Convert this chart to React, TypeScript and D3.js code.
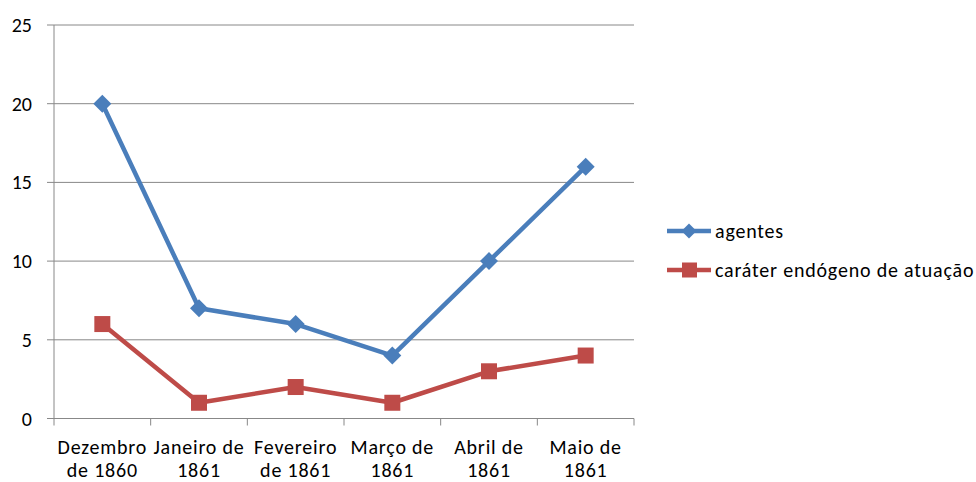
import React from "react";
import * as d3 from "d3";

const categories = [
  ["Dezembro", "de 1860"],
  ["Janeiro de", "1861"],
  ["Fevereiro", "de 1861"],
  ["Março de", "1861"],
  ["Abril de", "1861"],
  ["Maio de", "1861"],
];
const agentes = [20, 7, 6, 4, 10, 16];
const endogeno = [6, 1, 2, 1, 3, 4];
const yTicks = [0, 5, 10, 15, 20, 25];
const seriesNames = ["agentes", "caráter endógeno de atuação"];

const W = 976, H = 482;
const left = 54, right = 634, top = 25, bottom = 418.5;
const FONT = "Carlito, Calibri, 'Liberation Sans', sans-serif";

export default function App() {
  const x = d3.scaleBand().domain(categories.map((_, i) => String(i))).range([left, right]);
  const y = d3.scaleLinear().domain([0, 25]).range([bottom, top]);
  const cx = (i: number) => (x(String(i)) as number) + x.bandwidth() / 2;
  const line = d3.line<number>().x((_, i) => cx(i)).y((d) => y(d));
  const blue = "#4A7EBB";
  const red = "#BE4B48";
  const diamond = (px: number, py: number, s: number) =>
    `M${px},${py - s} L${px + s},${py} L${px},${py + s} L${px - s},${py} Z`;
  return (
    <svg width={W} height={H} style={{ position: "absolute", left: 0, top: 0 }} fontFamily={FONT}>
      <rect width={W} height={H} fill="#fff" />
      {yTicks.map((t) => (
        <g key={t}>
          <line x1={left - 7} x2={right} y1={y(t)} y2={y(t)} stroke="#888" strokeWidth={1} />
          <text x={32} y={y(t)} dy="0.35em" textAnchor="end" fontSize={20} fill="#000">{t}</text>
        </g>
      ))}
      <line x1={left} x2={left} y1={top} y2={bottom} stroke="#888" />
      {d3.range(categories.length + 1).map((i) => {
        const xx = left + i * x.bandwidth();
        return <line key={i} x1={xx} x2={xx} y1={bottom} y2={bottom + 7} stroke="#888" />;
      })}
      {categories.map((c, i) => (
        <text key={i} x={cx(i)} textAnchor="middle" fontSize={20} letterSpacing={0.8} fill="#000">
          <tspan x={cx(i)} y={454}>{c[0]}</tspan>
          <tspan x={cx(i)} y={477}>{c[1]}</tspan>
        </text>
      ))}
      <path d={line(agentes) || ""} fill="none" stroke={blue} strokeWidth={4.5} strokeLinejoin="round" />
      <path d={line(endogeno) || ""} fill="none" stroke={red} strokeWidth={4.5} strokeLinejoin="round" />
      {agentes.map((v, i) => (
        <path key={i} d={diamond(cx(i), y(v), 9)} fill={blue} />
      ))}
      {endogeno.map((v, i) => (
        <rect key={i} x={cx(i) - 8} y={y(v) - 8} width={16} height={16} fill={red} />
      ))}
      <g>
        <line x1={667} x2={711} y1={231} y2={231} stroke={blue} strokeWidth={4.5} />
        <path d={diamond(689, 231, 7.5)} fill={blue} />
        <text x={715} y={231} dy="0.35em" fontSize={20} letterSpacing={0.8} fill="#000">{seriesNames[0]}</text>
        <line x1={667} x2={711} y1={270} y2={270} stroke={red} strokeWidth={4.5} />
        <rect x={682} y={262.5} width={15} height={15} fill={red} />
        <text x={715} y={270} dy="0.35em" fontSize={20} letterSpacing={0.8} fill="#000">{seriesNames[1]}</text>
      </g>
    </svg>
  );
}
